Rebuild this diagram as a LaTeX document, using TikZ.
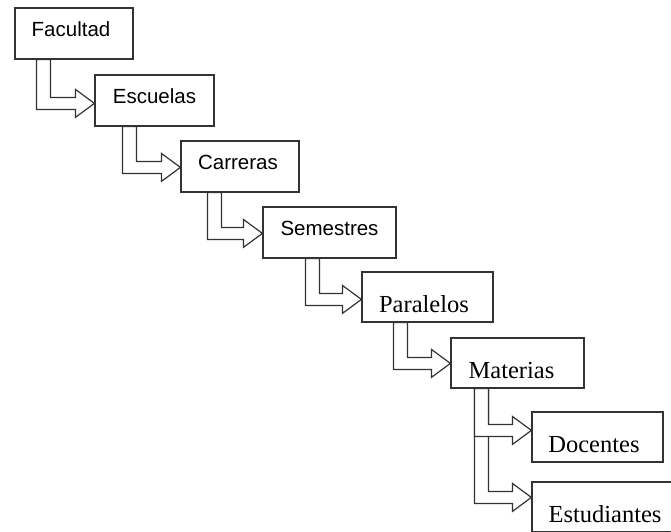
\documentclass[tikz,border=0pt]{standalone}
\usepackage{fontspec}
\setmainfont{Liberation Serif}
\newfontfamily\arialfont{Liberation Sans}
\usetikzlibrary{calc}

\definecolor{edge}{HTML}{333333}

\tikzset{
  level/.style={draw=edge, line width=1.2pt, inner sep=0pt, fill=white},
  sanslevel/.style={level, font=\arialfont\fontsize{20.5}{24}\selectfont,
    text height=5pt, text depth=0pt},
  seriflevel/.style={level, font=\fontsize{24.5}{28}\selectfont,
    text height=31pt, text depth=0pt},
  stair/.style={draw=edge, line width=1.2pt, fill=white, line join=miter},
}

% Moves a label to the left of its box centre by half the given amount
\newcommand\labelnudge[1]{\hspace*{-#1}}

% Stepped block arrow: leaves the bottom of #1 at #3 pt from its left side,
% turns right and points at the left side of #2, #4 pt below its top.
\newcommand\stairarrow[4]{%
  \draw[stair] let \p1=(#1.south west), \p2=(#2.north west) in
    (\x1+#3pt,\y1) -- (\x1+#3pt,\y2-#4pt-6pt)
    -- (\x2-19pt,\y2-#4pt-6pt) -- (\x2-19pt,\y2-#4pt-14pt)
    -- (\x2,\y2-#4pt)
    -- (\x2-19pt,\y2-#4pt+14pt) -- (\x2-19pt,\y2-#4pt+6pt)
    -- (\x1+#3pt+14pt,\y2-#4pt+6pt) -- (\x1+#3pt+14pt,\y1) -- cycle;}

\begin{document}
\begin{tikzpicture}[x=1pt,y=-1pt]
  \clip (0,0) rectangle (671,531);
  \fill[white] (0,0) rectangle (671,531);

  \node[sanslevel, minimum width=118pt, minimum height=51pt] (fac) at (74,33.5) {\labelnudge{6pt}Facultad};
  \node[sanslevel, minimum width=119pt, minimum height=51pt] (esc) at (154.5,100.5) {Escuelas};
  \node[sanslevel, minimum width=118pt, minimum height=51pt] (car) at (240,166.5) {\labelnudge{4pt}Carreras};
  \node[sanslevel, minimum width=133pt, minimum height=51pt] (sem) at (329.5,232.5) {Semestres};
  \node[seriflevel, minimum width=131pt, minimum height=50pt] (par) at (427.5,297) {\labelnudge{7pt}Paralelos};
  \node[seriflevel, minimum width=133pt, minimum height=50pt] (mat) at (517.5,363) {\labelnudge{12pt}Materias};
  \node[seriflevel, minimum width=131pt, minimum height=50pt] (doc) at (597.5,437) {\labelnudge{7pt}Docentes};
  \node[seriflevel, minimum width=146pt, minimum height=50pt] (est) at (605,507) {Estudiantes};

  \stairarrow{fac}{esc}{22}{29}
  \stairarrow{esc}{car}{28}{27}
  \stairarrow{car}{sem}{27}{27}
  \stairarrow{sem}{par}{43}{28}
  \stairarrow{par}{mat}{32}{26}
  \stairarrow{mat}{est}{24}{16}
  \stairarrow{mat}{doc}{24}{19}
\end{tikzpicture}
\end{document}
